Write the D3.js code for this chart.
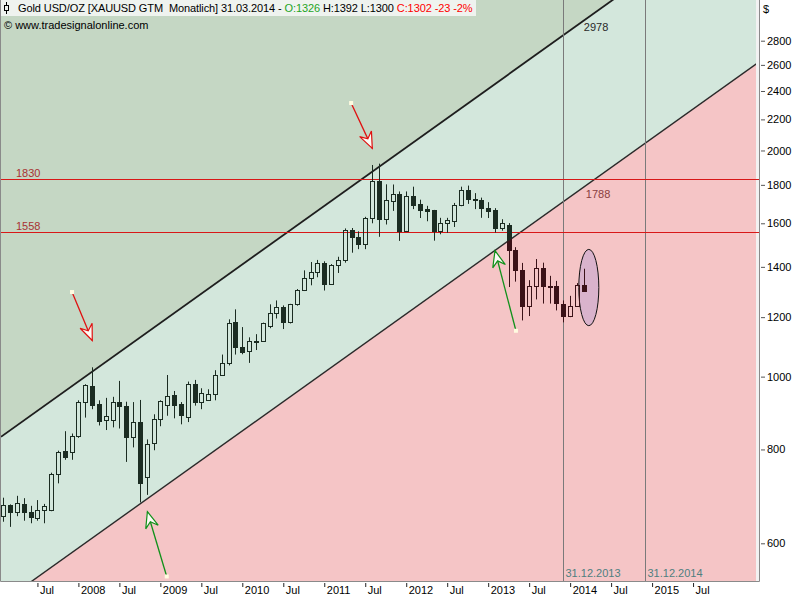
<!DOCTYPE html>
<html>
<head>
<meta charset="utf-8">
<script src="https://cdn.jsdelivr.net/npm/d3@7/dist/d3.min.js"></script>
<style>
  html, body { margin: 0; padding: 0; background: #fff; }
  svg { display: block; font-family: "Liberation Sans", Arial, sans-serif; }
</style>
</head>
<body>
<svg id="chart"></svg>
<script>
const width = 800;
const height = 600;
const plotLeft = 1;
const plotRight = 756;
const frameRight = 759;
const plotTop = 0;
const plotBottom = 581;

// monthly candles, Feb 2007 .. Mar 2014
const months = [
  "2007-02", "2007-03", "2007-04", "2007-05", "2007-06", "2007-07", "2007-08", "2007-09", "2007-10", "2007-11", "2007-12",
  "2008-01", "2008-02", "2008-03", "2008-04", "2008-05", "2008-06", "2008-07", "2008-08", "2008-09", "2008-10", "2008-11", "2008-12",
  "2009-01", "2009-02", "2009-03", "2009-04", "2009-05", "2009-06", "2009-07", "2009-08", "2009-09", "2009-10", "2009-11", "2009-12",
  "2010-01", "2010-02", "2010-03", "2010-04", "2010-05", "2010-06", "2010-07", "2010-08", "2010-09", "2010-10", "2010-11", "2010-12",
  "2011-01", "2011-02", "2011-03", "2011-04", "2011-05", "2011-06", "2011-07", "2011-08", "2011-09", "2011-10", "2011-11", "2011-12",
  "2012-01", "2012-02", "2012-03", "2012-04", "2012-05", "2012-06", "2012-07", "2012-08", "2012-09", "2012-10", "2012-11", "2012-12",
  "2013-01", "2013-02", "2013-03", "2013-04", "2013-05", "2013-06", "2013-07", "2013-08", "2013-09", "2013-10", "2013-11", "2013-12",
  "2014-01", "2014-02", "2014-03"
];
const opens = [
  652, 674, 661, 677, 661, 649, 664, 665, 743, 796, 794,
  833, 925, 971, 919, 876, 876, 925, 914, 830, 870, 736, 817,
  879, 917, 944, 919, 884, 979, 925, 931, 947, 1006, 1043, 1182,
  1096, 1082, 1114, 1115, 1167, 1214, 1239, 1181, 1248, 1304, 1351, 1378,
  1416, 1329, 1409, 1430, 1568, 1536, 1500, 1626, 1823, 1621, 1714, 1750,
  1564, 1737, 1698, 1671, 1666, 1564, 1599, 1610, 1693, 1774, 1721, 1716,
  1675, 1666, 1578, 1594, 1475, 1386, 1241, 1320, 1394, 1322, 1320, 1251,
  1203, 1242, 1326
];
const highs = [
  690, 676, 694, 689, 673, 685, 677, 745, 797, 846, 840,
  930, 977, 1029, 930, 937, 940, 987, 926, 925, 931, 825, 891,
  930, 1005, 957, 925, 985, 990, 965, 962, 1020, 1070, 1192, 1229,
  1164, 1128, 1139, 1180, 1248, 1263, 1244, 1250, 1308, 1385, 1421, 1430,
  1424, 1412, 1444, 1575, 1577, 1561, 1632, 1913, 1921, 1803, 1802, 1764,
  1764, 1790, 1720, 1688, 1667, 1627, 1627, 1703, 1790, 1796, 1755, 1731,
  1707, 1676, 1620, 1601, 1487, 1417, 1344, 1434, 1418, 1362, 1341, 1263,
  1281, 1332, 1392
];
const lows = [
  641, 631, 652, 643, 638, 643, 638, 662, 721, 775, 775,
  829, 882, 905, 861, 849, 856, 853, 770, 805, 680, 696, 798,
  859, 887, 880, 864, 870, 915, 905, 930, 930, 1003, 1035, 1070,
  1071, 1043, 1085, 1113, 1160, 1195, 1157, 1177, 1243, 1300, 1323, 1356,
  1302, 1326, 1374, 1418, 1462, 1478, 1478, 1600, 1535, 1594, 1662, 1516,
  1563, 1671, 1626, 1610, 1517, 1547, 1554, 1582, 1686, 1698, 1671, 1627,
  1626, 1555, 1564, 1316, 1338, 1188, 1204, 1267, 1251, 1251, 1225, 1181,
  1200, 1240, 1300
];
const closes = [
  674, 661, 679, 661, 651, 664, 673, 743, 794, 781, 833,
  925, 974, 917, 872, 885, 925, 913, 830, 870, 722, 813, 879,
  928, 942, 917, 890, 979, 925, 950, 947, 1005, 1043, 1178, 1096,
  1079, 1117, 1112, 1178, 1214, 1239, 1181, 1248, 1304, 1353, 1378, 1416,
  1329, 1410, 1430, 1568, 1536, 1500, 1626, 1823, 1620, 1718, 1750, 1564,
  1737, 1693, 1666, 1662, 1564, 1599, 1614, 1693, 1774, 1721, 1716, 1676,
  1662, 1578, 1599, 1475, 1386, 1241, 1320, 1394, 1320, 1320, 1254, 1203,
  1242, 1324, 1302
];

const yTicks = [600, 800, 1000, 1200, 1400, 1600, 1800, 2000, 2200, 2400, 2600, 2800];
const xTickMonths = ["2007-07", "2008-01", "2008-07", "2009-01", "2009-07", "2010-01", "2010-07", "2011-01", "2011-07",
  "2012-01", "2012-07", "2013-01", "2013-07", "2014-01", "2014-07", "2015-01", "2015-07"];
const xTickLabels = ["Jul", "2008", "Jul", "2009", "Jul", "2010", "Jul", "2011", "Jul",
  "2012", "Jul", "2013", "Jul", "2014", "Jul", "2015", "Jul"];

const levels = [1830, 1558];
const markerMonths = ["2013-12", "2014-12"];
const markerLabels = ["31.12.2013", "31.12.2014"];

// channel: two points per line
const upperLine = [["2007-01", 823.5], ["2014-03", 2978]];
const lowerLine = [["2007-01", 494.4], ["2014-03", 1788]];
const channelLabels = [["2014-03", 2978, "2978"], ["2014-03", 1788, "1788"]];

const redArrows = [
  { from: ["2007-12-03", 1296], to: ["2008-03-02", 1117] },
  { from: ["2011-04-29", 2313], to: ["2011-08-02", 2013] }
];
const greenArrows = [
  { from: ["2009-01-29", 542], to: ["2008-11-04", 661] },
  { from: ["2013-05-03", 1151], to: ["2013-02-01", 1471] }
];
const ellipseBox = { from: "2014-02-09", to: "2014-05-07", low: 1169, high: 1477 };

// month index, Jan 2008 = 0
const toIdx = s => {
  const p = s.split("-").map(Number);
  return (p[0] - 2008) * 12 + (p[1] - 1) + (p.length > 2 ? (p[2] - 1) / 30 : 0);
};

const candles = months.map((m, i) => ({
  idx: toIdx(m), o: opens[i], h: highs[i], l: lows[i], c: closes[i]
}));

const svg = d3.select("#chart").attr("width", width).attr("height", height);

const x = d3.scaleLinear().domain([0, 71]).range([78.4, 563.3]);
const y = d3.scaleLog().domain([600, 2800]).range([543.3, 40.7]);

const defs = svg.append("defs");
defs.append("clipPath").attr("id", "plot-clip")
  .append("rect")
  .attr("x", plotLeft).attr("y", plotTop)
  .attr("width", plotRight - plotLeft).attr("height", plotBottom - plotTop);

// line through two points, evaluated at a pixel x
const lineAt = (pts, px) => {
  const x1 = x(toIdx(pts[0][0])), y1 = y(pts[0][1]);
  const x2 = x(toIdx(pts[1][0])), y2 = y(pts[1][1]);
  return y1 + (y2 - y1) * (px - x1) / (x2 - x1);
};
const uL = lineAt(upperLine, plotLeft), uR = lineAt(upperLine, frameRight);
const lL = lineAt(lowerLine, plotLeft), lR = lineAt(lowerLine, frameRight);

const plot = svg.append("g").attr("clip-path", "url(#plot-clip)");

const zones = [
  { pts: [[plotLeft, plotTop], [frameRight, plotTop], [frameRight, uR], [plotLeft, uL]], fill: "#c5d7c4" },
  { pts: [[plotLeft, uL], [frameRight, uR], [frameRight, lR], [plotLeft, lL]], fill: "#d3e7dc" },
  { pts: [[plotLeft, lL], [frameRight, lR], [frameRight, plotBottom], [plotLeft, plotBottom]], fill: "#f5c5c6" }
];
plot.selectAll(".zone").data(zones).enter().append("polygon")
  .attr("class", "zone")
  .attr("points", d => d.pts.map(p => p.join(",")).join(" "))
  .attr("fill", d => d.fill);

// clip regions for candle tint above / below lower channel line
defs.append("clipPath").attr("id", "above-clip").append("polygon")
  .attr("points", [[plotLeft, plotTop], [frameRight, plotTop], [frameRight, lR], [plotLeft, lL]].map(p => p.join(",")).join(" "));
defs.append("clipPath").attr("id", "below-clip").append("polygon")
  .attr("points", [[plotLeft, lL], [frameRight, lR], [frameRight, plotBottom], [plotLeft, plotBottom]].map(p => p.join(",")).join(" "));

// channel lines
plot.append("line")
  .attr("x1", plotLeft).attr("y1", uL).attr("x2", frameRight).attr("y2", uR)
  .attr("stroke", "#1e1e1e").attr("stroke-width", 1.8);
plot.append("line")
  .attr("x1", plotLeft).attr("y1", lL).attr("x2", frameRight).attr("y2", lR)
  .attr("stroke", "#2a2a2a").attr("stroke-width", 1.4);

// vertical date markers
markerMonths.forEach((m, i) => {
  const px = Math.round(x(toIdx(m))) + 0.5;
  svg.append("line")
    .attr("x1", px).attr("x2", px).attr("y1", plotTop).attr("y2", plotBottom)
    .attr("stroke", "#7a7a7a").attr("stroke-width", 1);
  svg.append("text")
    .attr("x", px + 2).attr("y", 577)
    .attr("font-size", 11).attr("fill", "#4f7f80")
    .text(markerLabels[i]);
});

// horizontal levels
levels.forEach(v => {
  const py = Math.round(y(v)) + 0.5;
  svg.append("line")
    .attr("x1", plotLeft).attr("x2", frameRight).attr("y1", py).attr("y2", py)
    .attr("stroke", "#d81818").attr("stroke-width", 1);
  svg.append("text")
    .attr("x", 16).attr("y", py - 3)
    .attr("font-size", 11).attr("fill", "#a83232")
    .text(v);
});

channelLabels.forEach((d, i) => {
  svg.append("text")
    .attr("x", x(toIdx(d[0])) + (i === 0 ? 0 : 2))
    .attr("y", y(d[1]) + 10.5)
    .attr("font-size", 11)
    .attr("fill", i === 0 ? "#2a2a2a" : "#8a4040")
    .text(d[2]);
});

// ellipse highlight
svg.append("ellipse")
  .attr("cx", (x(toIdx(ellipseBox.from)) + x(toIdx(ellipseBox.to))) / 2)
  .attr("cy", (y(ellipseBox.low) + y(ellipseBox.high)) / 2)
  .attr("rx", (x(toIdx(ellipseBox.to)) - x(toIdx(ellipseBox.from))) / 2)
  .attr("ry", (y(ellipseBox.low) - y(ellipseBox.high)) / 2)
  .attr("fill", "#d9b3cc")
  .attr("stroke", "#111")
  .attr("stroke-width", 1);

// candles
function drawCandles(g, color) {
  const c = g.selectAll(".candle").data(candles).enter().append("g").attr("class", "candle");
  c.each(function(d) {
    const el = d3.select(this);
    const x0 = Math.round(x(d.idx)) - 2;
    const cx = x0 + 2.5;
    const top = Math.round(y(Math.max(d.o, d.c)));
    const bot = Math.max(top + 1, Math.round(y(Math.min(d.o, d.c))));
    el.append("line")
      .attr("x1", cx).attr("x2", cx).attr("y1", y(d.h)).attr("y2", top)
      .attr("stroke", color);
    el.append("line")
      .attr("x1", cx).attr("x2", cx).attr("y1", bot + 1).attr("y2", y(d.l))
      .attr("stroke", color);
    el.append("rect")
      .attr("x", x0 + 0.5).attr("y", top + 0.5)
      .attr("width", 4).attr("height", bot - top)
      .attr("fill", d.c < d.o ? color : "none")
      .attr("stroke", color).attr("stroke-width", 1);
  });
}
drawCandles(svg.append("g").attr("clip-path", "url(#above-clip)"), "#1b2c22");
drawCandles(svg.append("g").attr("clip-path", "url(#below-clip)"), "#3b1218");

// arrows
function drawArrow(d, color) {
  const sx = x(toIdx(d.from[0])), sy = y(d.from[1]);
  const tx = x(toIdx(d.to[0])), ty = y(d.to[1]);
  const ang = Math.atan2(sy - ty, sx - tx) * 180 / Math.PI;
  const g = svg.append("g");
  g.append("line")
    .attr("x1", sx).attr("y1", sy).attr("x2", tx).attr("y2", ty)
    .attr("stroke", color).attr("stroke-width", 1.3);
  g.append("polygon")
    .attr("points", "0,0 16,-6.5 10.5,0 16,6.5")
    .attr("transform", `translate(${tx},${ty}) rotate(${ang})`)
    .attr("fill", "#fbfbf5")
    .attr("stroke", color).attr("stroke-width", 1.2);
  g.append("rect")
    .attr("x", sx - 2).attr("y", sy - 2).attr("width", 4).attr("height", 4)
    .attr("fill", "#fffbe0");
}
redArrows.forEach(d => drawArrow(d, "#e01010"));
greenArrows.forEach(d => drawArrow(d, "#10901a"));

// frame
svg.append("rect")
  .attr("x", plotRight).attr("y", plotTop).attr("width", frameRight - plotRight).attr("height", plotBottom)
  .attr("fill", "#f2f2f2");
svg.append("path")
  .attr("d", `M0.5,0V${plotBottom + 0.5}H${frameRight + 0.5}V0`)
  .attr("fill", "none").attr("stroke", "#8a8a8a").attr("stroke-width", 1);

// redraw level lines over the right strip
levels.forEach(v => {
  const py = Math.round(y(v)) + 0.5;
  svg.append("line")
    .attr("x1", plotRight).attr("x2", frameRight).attr("y1", py).attr("y2", py)
    .attr("stroke", "#d81818");
});

// axes
const xAxis = d3.axisBottom(x)
  .tickValues(xTickMonths.map(toIdx))
  .tickFormat((d, i) => xTickLabels[i])
  .tickSize(4);
const gx = svg.append("g")
  .attr("transform", `translate(0, ${plotBottom + 2})`)
  .call(xAxis);
gx.select(".domain").remove();
gx.selectAll("line").attr("stroke", "#222");
gx.selectAll("text")
  .attr("text-anchor", "start")
  .attr("x", 2).attr("y", 3)
  .attr("font-size", 11).attr("fill", "#000")
  .attr("font-family", "Liberation Sans, Arial, sans-serif");

const yAxis = d3.axisRight(y)
  .tickValues(yTicks)
  .tickFormat(d3.format("d"))
  .tickSize(4);
const gy = svg.append("g")
  .attr("transform", `translate(761, 0)`)
  .call(yAxis);
gy.select(".domain").remove();
gy.selectAll("line").attr("stroke", "#555");
gy.selectAll("text")
  .attr("x", 6)
  .attr("font-size", 11).attr("fill", "#000")
  .attr("font-family", "Liberation Sans, Arial, sans-serif");

svg.append("text")
  .attr("x", 763).attr("y", 13)
  .attr("font-size", 11).attr("fill", "#000")
  .text("$");

// title block
svg.append("rect")
  .attr("x", 1).attr("y", 0).attr("width", 475).attr("height", 16)
  .attr("fill", "#eff3ef");
const icon = svg.append("g");
icon.append("line").attr("x1", 6.5).attr("x2", 6.5).attr("y1", 2).attr("y2", 14).attr("stroke", "#000");
icon.append("rect").attr("x", 4.5).attr("y", 5.5).attr("width", 4).attr("height", 5)
  .attr("fill", "#eff3ef").attr("stroke", "#000");

const title = svg.append("text")
  .attr("x", 18).attr("y", 12)
  .attr("font-size", 11)
  .attr("letter-spacing", -0.1)
  .attr("xml:space", "preserve");
title.append("tspan").attr("fill", "#000").text("Gold USD/OZ [XAUUSD GTM  Monatlich] 31.03.2014 - ");
title.append("tspan").attr("fill", "#1fa51f").text("O:1326");
title.append("tspan").attr("fill", "#000").text(" H:1392 L:1300 ");
title.append("tspan").attr("fill", "#f00").text("C:1302 -23 -2%");

svg.append("text")
  .attr("x", 4).attr("y", 29)
  .attr("font-size", 11).attr("fill", "#000")
  .text("\u00a9 www.tradesignalonline.com");
</script>
</body>
</html>
